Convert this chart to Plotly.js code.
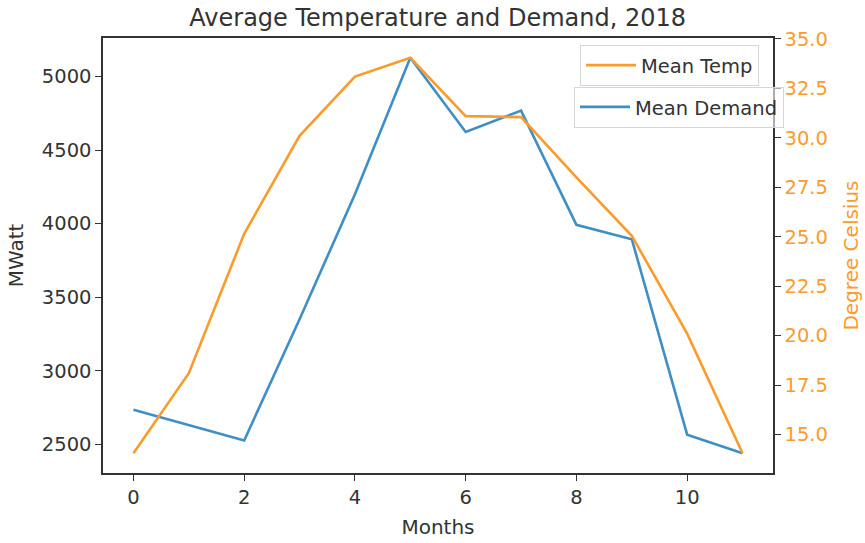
<!DOCTYPE html>
<html>
<head>
<meta charset="utf-8">
<script src="https://cdn.plot.ly/plotly-3.0.1.min.js"></script>
<style>
  html, body { margin: 0; padding: 0; background: #fff; }
  #chart { width: 865px; height: 543px; }
</style>
</head>
<body>
<div id="chart"></div>
<script>
// Data
const months = [0, 1, 2, 3, 4, 5, 6, 7, 8, 9, 10, 11];
const meanDemand = [2736, 2630, 2527, 3350, 4200, 5127, 4623, 4768, 3992, 3894, 2566, 2440];
const meanTemp = [14.05, 18.1, 25.15, 30.1, 33.1, 34.05, 31.1, 31.05, 28.0, 25.05, 20.1, 14.05];
const xTicks = [0, 2, 4, 6, 8, 10];
const yTicks = [2500, 3000, 3500, 4000, 4500, 5000];
const y2Ticks = [15.0, 17.5, 20.0, 22.5, 25.0, 27.5, 30.0, 32.5, 35.0];

function padRange(arr) {
  const mn = Math.min(...arr), mx = Math.max(...arr);
  const p = 0.05 * (mx - mn);
  return [mn - p, mx + p];
}

const ORANGE = '#fb9b2c';
const BLUE = '#3f8ec5';
const TXT = '#333333';
const FONT = 'DejaVu Sans, sans-serif';
const FS = 19.5;

const traces = [
  {
    x: months, y: meanDemand, type: 'scatter', mode: 'lines',
    name: 'Mean Demand', yaxis: 'y', legend: 'legend2',
    line: { color: BLUE, width: 2.6 }
  },
  {
    x: months, y: meanTemp, type: 'scatter', mode: 'lines',
    name: 'Mean Temp', yaxis: 'y2', legend: 'legend',
    line: { color: ORANGE, width: 2.6 }
  }
];

const layout = {
  width: 865, height: 543,
  margin: { l: 103, r: 92, t: 38, b: 70 },
  paper_bgcolor: '#ffffff', plot_bgcolor: '#ffffff',
  font: { family: FONT, size: FS, color: TXT },
  title: {
    text: 'Average Temperature and Demand, 2018',
    font: { family: FONT, size: 24, color: TXT },
    x: 0.506, xanchor: 'center', y: 0.968, yanchor: 'middle', yref: 'container'
  },
  xaxis: {
    range: padRange(months), tickvals: xTicks, ticktext: xTicks.map(String),
    showgrid: false, zeroline: false, showline: true, mirror: true,
    linecolor: TXT, linewidth: 1.6, ticks: 'outside', ticklen: 6, tickcolor: TXT,
    tickfont: { family: FONT, size: FS, color: TXT },
    title: { text: 'Months', font: { family: FONT, size: 20, color: TXT }, standoff: 12 }
  },
  yaxis: {
    range: padRange(meanDemand), tickvals: yTicks, ticktext: yTicks.map(String),
    showgrid: false, zeroline: false, showline: true,
    linecolor: TXT, linewidth: 1.6, ticks: 'outside', ticklen: 6, tickcolor: TXT,
    tickfont: { family: FONT, size: FS, color: TXT },
    title: { text: 'MWatt', font: { family: FONT, size: 20, color: TXT }, standoff: 13 }
  },
  yaxis2: {
    overlaying: 'y', side: 'right',
    range: padRange(meanTemp), tickvals: y2Ticks, ticktext: y2Ticks.map(v => v.toFixed(1)),
    showgrid: false, zeroline: false, showline: true,
    linecolor: TXT, linewidth: 1.6, ticks: 'outside', ticklen: 6, tickcolor: TXT,
    tickfont: { family: FONT, size: FS, color: ORANGE },
    title: { text: 'Degree Celsius', font: { family: FONT, size: 20, color: ORANGE }, standoff: 17 }
  },
  showlegend: true,
  legend: {
    x: 0.712, y: 0.984, xanchor: 'left', yanchor: 'top', xref: 'paper', yref: 'paper',
    bgcolor: 'rgba(255,255,255,0.8)', bordercolor: '#d6d6d6', borderwidth: 1,
    itemwidth: 50, entrywidth: 178, entrywidthmode: 'pixels',
    font: { family: FONT, size: FS, color: TXT }
  },
  legend2: {
    x: 0.703, y: 0.888, xanchor: 'left', yanchor: 'top', xref: 'paper', yref: 'paper',
    bgcolor: 'rgba(255,255,255,0.6)', bordercolor: '#d6d6d6', borderwidth: 1,
    itemwidth: 50, entrywidth: 213, entrywidthmode: 'pixels',
    font: { family: FONT, size: FS, color: TXT }
  }
};

Plotly.newPlot('chart', traces, layout, { displayModeBar: false, staticPlot: true });
</script>
</body>
</html>
